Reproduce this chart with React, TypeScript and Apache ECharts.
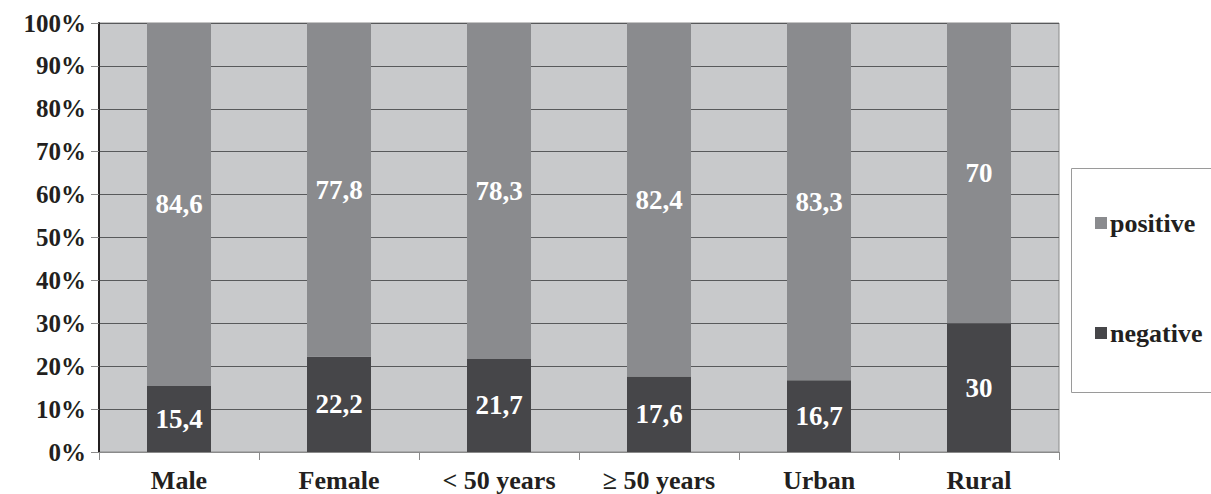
import React, { useEffect, useRef } from "react";
import * as echarts from "echarts";

const categories = ["Male", "Female", "< 50 years", "≥ 50 years", "Urban", "Rural"];
const negativeValues = [15.4, 22.2, 21.7, 17.6, 16.7, 30];
const positiveValues = [84.6, 77.8, 78.3, 82.4, 83.3, 70];
const yTicks = { min: 0, max: 100, interval: 10 };

const FONT = "Liberation Serif";

export default function App() {
  const ref = useRef<HTMLDivElement>(null);
  useEffect(() => {
    document.body.style.margin = "0";
    const chart = echarts.init(ref.current!, null, { renderer: "svg" });
    const fmt = (p: any) => String(p.value).replace(".", ",");
    const labelStyle = {
      show: true,
      position: "inside",
      color: "#ffffff",
      fontFamily: FONT,
      fontWeight: "bold",
      fontSize: 27,
      formatter: fmt,
    };
    chart.setOption({
      animation: false,
      backgroundColor: "#ffffff",
      textStyle: { fontFamily: FONT },
      grid: { left: 99, right: 152, top: 23, bottom: 42, show: true, backgroundColor: "#c8c9cb", borderColor: "#8a8a8a", borderWidth: 1 },
      legend: {
        data: ["positive", "negative"],
        orient: "vertical",
        left: 1090,
        top: 205,
        itemGap: 84,
        itemWidth: 12,
        itemHeight: 12,
        icon: "rect",
        textStyle: { fontFamily: FONT, fontWeight: "bold", fontSize: 26, color: "#231f20", padding: [0, 0, 0, -2] },
      },
      graphic: [
        {
          type: "rect",
          shape: { x: 1071.5, y: 168.5, width: 160, height: 224 },
          style: { fill: "none", stroke: "#9a9a9a", lineWidth: 1 },
          z: -1,
        },
      ],
      xAxis: {
        type: "category",
        data: categories,
        axisLine: { show: true, lineStyle: { color: "#8a8a8a", width: 1 } },
        axisTick: { show: true, alignWithLabel: false, length: 8, lineStyle: { color: "#8a8a8a" } },
        axisLabel: { fontFamily: FONT, fontWeight: "bold", fontSize: 26, color: "#231f20", margin: 15, interval: 0 },
        splitLine: { show: false },
      },
      yAxis: {
        type: "value",
        min: yTicks.min,
        max: yTicks.max,
        interval: yTicks.interval,
        axisLine: { show: true, lineStyle: { color: "#231f20", width: 2 } },
        axisTick: { show: true, length: 8, lineStyle: { color: "#8a8a8a" } },
        axisLabel: { fontFamily: FONT, fontWeight: "bold", fontSize: 25, color: "#231f20", margin: 13, formatter: "{value}%" },
        splitLine: { show: true, lineStyle: { color: "#58595b", width: 1 } },
      },
      series: [
        {
          name: "negative",
          type: "bar",
          stack: "total",
          data: negativeValues,
          barWidth: "40%",
          itemStyle: { color: "#464649" },
          label: labelStyle,
        },
        {
          name: "positive",
          type: "bar",
          stack: "total",
          data: positiveValues,
          barWidth: "40%",
          itemStyle: { color: "#8a8b8e" },
          label: labelStyle,
        },
      ],
    });
    return () => chart.dispose();
  }, []);
  return <div ref={ref} style={{ width: 1211, height: 494 }} />;
}
